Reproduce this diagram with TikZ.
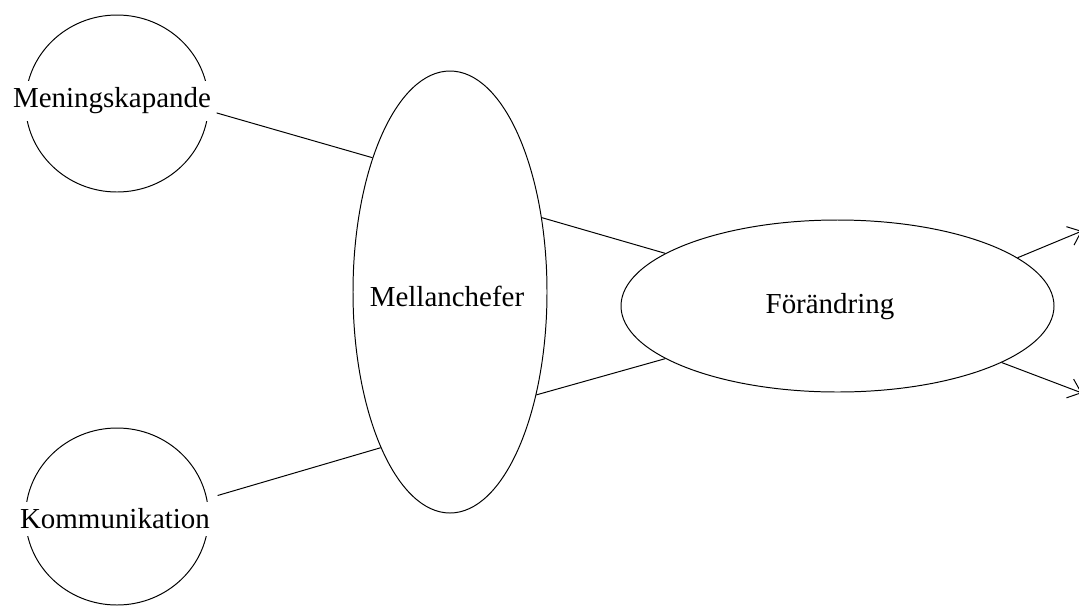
\documentclass[tikz,border=0pt]{standalone}
\usepackage{fontspec}
\setmainfont{Liberation Serif}
\usetikzlibrary{arrows.meta,shapes.geometric}

\begin{document}
\begin{tikzpicture}[
  x=0.025cm,y=-0.025cm,
  bubble/.style={ellipse,draw=black,line width=0.7pt,inner sep=0pt},
  word/.style={inner xsep=1pt,inner ysep=5pt,font=\fontsize{20.6}{24}\selectfont},
  link/.style={line width=0.7pt,draw=black},
  arrow/.style={link,-{Straight Barb[length=3mm,width=5mm]}}
]
\useasboundingbox (0,0) rectangle (1079,606);
% left circles
\node[bubble,minimum width=183*0.025cm,minimum height=177*0.025cm] (mening) at (117,103.5) {};
\node[word,fill=white] (meningtxt) at (112,101) {Meningskapande};
\node[bubble,minimum width=183*0.025cm,minimum height=177*0.025cm] (komm) at (117,516.5) {};
\node[word,fill=white] (kommtxt) at (115,519) {Kommunikation};
% middle and right ellipses
\node[bubble,minimum width=194*0.025cm,minimum height=442*0.025cm] (mellan) at (450,292) {};
\node[word] (mellantxt) at (447,296) {Mellanchefer};
\node[bubble,minimum width=433*0.025cm,minimum height=172*0.025cm] (forand) at (837.5,306) {};
\node[word] (forandtxt) at (830,307) {Förändring};
\coordinate (utA) at (1082,231);
\coordinate (utB) at (1082,393);
\draw[link] ([shift={(4,5)}]meningtxt.base east) -- (mellan.120.8);
\draw[link] ([shift={(6,-6)}]kommtxt.north east) -- (mellan.-114.5);
\draw[link] (mellan.39.3) -- (forand.163.1);
\draw[link] (mellan.-50.9) -- (forand.197.9);
\draw[arrow] (forand.15.3) -- (utA);
\draw[arrow] (forand.-19) -- (utB);
\end{tikzpicture}
\end{document}
